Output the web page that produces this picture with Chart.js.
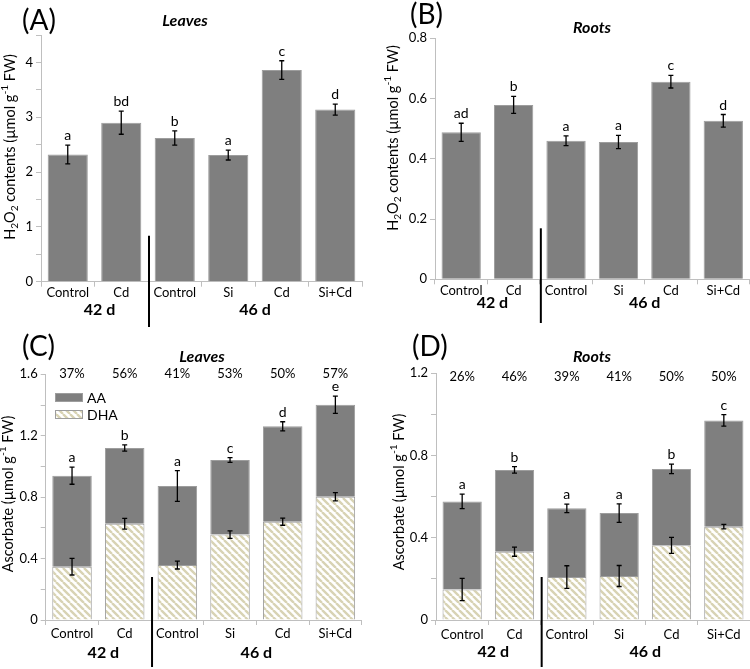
<!DOCTYPE html>
<html>
<head>
<meta charset="utf-8">
<script src="https://cdn.jsdelivr.net/npm/chart.js@4.4.0/dist/chart.umd.min.js"></script>
<style>
  body { margin: 0; background: #fff; }
  #wrap { position: relative; width: 750px; height: 669px; }
  #wrap canvas { position: absolute; }
</style>
</head>
<body>
<div id="wrap">
  <canvas id="cA" width="375" height="330" style="left:0;top:0"></canvas>
  <canvas id="cB" width="375" height="330" style="left:375px;top:0"></canvas>
  <canvas id="cC" width="375" height="339" style="left:0;top:330px"></canvas>
  <canvas id="cD" width="375" height="339" style="left:375px;top:330px"></canvas>
</div>
<script>
/* ---- data ---- */
const CATS = ['Control', 'Cd', 'Control', 'Si', 'Cd', 'Si+Cd'];
const GROUPS = ['42 d', '46 d'];

// (A) H2O2 leaves
const H2O2_LEAF = [2.32, 2.90, 2.62, 2.31, 3.86, 3.14];
const H2O2_LEAF_ERR = [0.17, 0.21, 0.13, 0.09, 0.17, 0.10];
const H2O2_LEAF_SIG = ['a', 'bd', 'b', 'a', 'c', 'd'];

// (B) H2O2 roots
const H2O2_ROOT = [0.488, 0.579, 0.460, 0.456, 0.656, 0.526];
const H2O2_ROOT_ERR = [0.030, 0.028, 0.016, 0.022, 0.021, 0.021];
const H2O2_ROOT_SIG = ['ad', 'b', 'a', 'a', 'c', 'd'];

// (C) ascorbate leaves: total (AA+DHA) and DHA part
const ASC_LEAF_TOTAL = [0.940, 1.120, 0.873, 1.042, 1.261, 1.402];
const ASC_LEAF_TOTAL_ERR = [0.056, 0.020, 0.100, 0.015, 0.030, 0.056];
const ASC_LEAF_DHA = [0.347, 0.627, 0.358, 0.556, 0.640, 0.803];
const ASC_LEAF_DHA_ERR = [0.054, 0.035, 0.026, 0.024, 0.023, 0.027];
const ASC_LEAF_SIG = ['a', 'b', 'a', 'c', 'd', 'e'];
const ASC_LEAF_PCT = ['37%', '56%', '41%', '53%', '50%', '57%'];

// (D) ascorbate roots
const ASC_ROOT_TOTAL = [0.577, 0.730, 0.543, 0.520, 0.735, 0.971];
const ASC_ROOT_TOTAL_ERR = [0.035, 0.016, 0.021, 0.045, 0.023, 0.028];
const ASC_ROOT_DHA = [0.148, 0.332, 0.209, 0.214, 0.363, 0.454];
const ASC_ROOT_DHA_ERR = [0.054, 0.022, 0.055, 0.051, 0.039, 0.011];
const ASC_ROOT_SIG = ['a', 'b', 'a', 'a', 'b', 'c'];
const ASC_ROOT_PCT = ['26%', '46%', '39%', '41%', '50%', '50%'];

/* ---- style ---- */
const FONT = 'Lato';
const GRAY = '#7f7f7f';
const EDGE = '#9d9d9d';
const AXIS = '#bfbfbf';
Chart.defaults.font.family = FONT;
Chart.defaults.color = '#000';

function hatch() {
  const c = document.createElement('canvas');
  c.width = c.height = 7;
  const g = c.getContext('2d');
  g.fillStyle = '#fff';
  g.fillRect(0, 0, 7, 7);
  g.strokeStyle = '#d8d3b4';
  g.lineWidth = 2.4;
  g.beginPath();
  for (const k of [-7, 0, 7]) { g.moveTo(k, 0); g.lineTo(k + 7, 7); }
  g.stroke();
  return g.createPattern(c, 'repeat');
}
const HATCH = hatch();

const Y_H2O2 = [['H'], ['2', 1], ['O'], ['2', 1], [' contents (µmol g'], ['-1', 2], [' FW)']];
const Y_ASC = [['Ascorbate (µmol g'], ['-1', 2], [' FW)']];

// rotated axis title with sub/superscripts
function richY(ctx, parts, x, y, size) {
  const small = size * 0.7;
  const fnt = p => (p[1] ? small : size) + 'px ' + FONT;
  let w = 0;
  parts.forEach(p => { ctx.font = fnt(p); w += ctx.measureText(p[0]).width; });
  ctx.save();
  ctx.translate(x, y);
  ctx.rotate(-Math.PI / 2);
  ctx.textAlign = 'left';
  ctx.textBaseline = 'middle';
  let cx = -w / 2;
  parts.forEach(p => {
    ctx.font = fnt(p);
    const dy = p[1] === 1 ? size * 0.32 : p[1] === 2 ? -size * 0.36 : 0;
    ctx.fillText(p[0], cx, dy);
    cx += ctx.measureText(p[0]).width;
  });
  ctx.restore();
}

function text(ctx, s, x, y, font, align) {
  ctx.font = font;
  ctx.textAlign = align || 'center';
  ctx.textBaseline = 'middle';
  ctx.fillText(s, x, y);
}

// everything that is not a bar: error bars, letters, labels, divider
function decor(p) {
  return {
    id: 'decor',
    afterDatasetsDraw(chart) {
      const ctx = chart.ctx, xs = chart.scales.x, ys = chart.scales.y;
      ctx.save();
      ctx.fillStyle = '#000';
      ctx.strokeStyle = '#000';
      ctx.lineWidth = 1.3;
      p.errs.forEach(([tops, errs]) => {
        tops.forEach((v, i) => {
          const x = xs.getPixelForValue(i);
          const y1 = ys.getPixelForValue(v + errs[i]), y2 = ys.getPixelForValue(v - errs[i]);
          ctx.beginPath();
          ctx.moveTo(x, y1); ctx.lineTo(x, y2);
          ctx.moveTo(x - 2.5, y1); ctx.lineTo(x + 2.5, y1);
          ctx.moveTo(x - 2.5, y2); ctx.lineTo(x + 2.5, y2);
          ctx.stroke();
        });
      });
      const [tops, errs] = p.errs[p.errs.length - 1];
      p.sig.forEach((s, i) => {
        ctx.font = '14px ' + FONT;
        ctx.textAlign = 'center';
        ctx.textBaseline = 'alphabetic';
        ctx.fillText(s, xs.getPixelForValue(i), ys.getPixelForValue(tops[i] + errs[i]) - 5);
      });
      if (p.pct) p.pct.forEach((s, i) => text(ctx, s, xs.getPixelForValue(i), p.pctY, '13px ' + FONT));

      text(ctx, p.tag, p.tagX, p.tagY, '28px ' + FONT, 'left');
      text(ctx, p.title, p.titleX, p.titleY, 'italic bold 16px ' + FONT);
      richY(ctx, p.yTitle, p.yTitleX, p.yTitleY, 14.5);

      const mid = (a, b) => (xs.getPixelForValue(a) + xs.getPixelForValue(b)) / 2;
      const base = ys.getPixelForValue(0);
      text(ctx, GROUPS[0], mid(0, 1) + 5, base + p.groupDy, 'bold 16px ' + FONT);
      text(ctx, GROUPS[1], mid(3, 4), base + p.groupDy, 'bold 16px ' + FONT);

      ctx.lineWidth = 2;
      ctx.beginPath();
      const dx = mid(1, 2) + 1;
      ctx.moveTo(dx, base - p.divUp);
      ctx.lineTo(dx, p.divEnd);
      ctx.stroke();

      if (p.legend) {
        const [lx, ly] = p.legend;
        ctx.lineWidth = 1;
        ctx.strokeStyle = EDGE;
        [[GRAY, 'AA'], [HATCH, 'DHA']].forEach(([fill, name], k) => {
          const y = ly + k * 17;
          ctx.fillStyle = fill;
          ctx.fillRect(lx, y, 28, 9);
          ctx.strokeRect(lx + 0.5, y + 0.5, 27, 8);
          ctx.fillStyle = '#000';
          text(ctx, name, lx + 32, y + 5, '14px ' + FONT, 'left');
        });
      }
      ctx.restore();
    }
  };
}

function tickFmt(v, every) {
  if (v === 0) return '0';
  const r = v / every;
  return Math.abs(r - Math.round(r)) < 1e-6 ? String(+v.toFixed(1)) : '';
}

function panel(id, p, datasets) {
  const stacked = datasets.length > 1;
  return new Chart(document.getElementById(id), {
    type: 'bar',
    data: { labels: CATS, datasets },
    options: {
      responsive: false,
      animation: false,
      events: [],
      layout: { padding: { left: 0, top: p.T, right: p.R, bottom: 0 } },
      plugins: { legend: { display: false }, tooltip: { enabled: false } },
      datasets: { bar: { barPercentage: 0.75, categoryPercentage: 1, borderWidth: 1, borderColor: EDGE } },
      scales: {
        x: {
          stacked,
          grid: { offset: true, drawOnChartArea: false, tickLength: 5, color: AXIS },
          border: { color: AXIS },
          ticks: { font: { size: 13 }, padding: p.tickPad, maxRotation: 0, autoSkip: false },
          afterFit: s => { s.height = p.axisH; }
        },
        y: {
          stacked, min: 0, max: p.max,
          grid: { drawOnChartArea: false, tickLength: 5, color: AXIS },
          border: { color: AXIS },
          ticks: { stepSize: p.step, autoSkip: false, padding: 3, font: { size: 13 }, callback: v => tickFmt(v, p.every) },
          afterFit: s => { s.width = p.L; }
        }
      }
    },
    plugins: [decor(p)]
  });
}

panel('cA', {
  L: 41, T: 35, R: 13, axisH: 48.3, max: 4.5, step: 0.5, every: 1, tickPad: -2,
  errs: [[H2O2_LEAF, H2O2_LEAF_ERR]], sig: H2O2_LEAF_SIG,
  tag: '(A)', tagX: 22, tagY: 21, title: 'Leaves', titleX: 185, titleY: 21,
  yTitle: Y_H2O2, yTitleX: 10, yTitleY: 147, groupDy: 28, divUp: 46, divEnd: 327
}, [{ data: H2O2_LEAF, backgroundColor: GRAY }]);

panel('cB', {
  L: 60, T: 38.3, R: 0.5, axisH: 50.7, max: 0.8, step: 0.2, every: 0.2, tickPad: -1,
  errs: [[H2O2_ROOT, H2O2_ROOT_ERR]], sig: H2O2_ROOT_SIG,
  tag: '(B)', tagX: 35, tagY: 15, title: 'Roots', titleX: 217, titleY: 28,
  yTitle: Y_H2O2, yTitleX: 18, yTitleY: 138, groupDy: 24, divUp: 51, divEnd: 323
}, [{ data: H2O2_ROOT, backgroundColor: GRAY }]);

panel('cC', {
  L: 45.7, T: 44.3, R: 13.3, axisH: 49, max: 1.6, step: 0.2, every: 0.4, tickPad: 1,
  errs: [[ASC_LEAF_DHA, ASC_LEAF_DHA_ERR], [ASC_LEAF_TOTAL, ASC_LEAF_TOTAL_ERR]], sig: ASC_LEAF_SIG,
  pct: ASC_LEAF_PCT, pctY: 44, legend: [55, 63],
  tag: '(C)', tagX: 22, tagY: 17, title: 'Leaves', titleX: 202, titleY: 27,
  yTitle: Y_ASC, yTitleX: 8, yTitleY: 164, groupDy: 33, divUp: 43, divEnd: 337
}, [
  { data: ASC_LEAF_DHA, backgroundColor: HATCH },
  { data: ASC_LEAF_TOTAL.map((t, i) => t - ASC_LEAF_DHA[i]), backgroundColor: GRAY }
]);

panel('cD', {
  L: 61, T: 43.3, R: 0, axisH: 49, max: 1.2, step: 0.2, every: 0.4, tickPad: 2,
  errs: [[ASC_ROOT_DHA, ASC_ROOT_DHA_ERR], [ASC_ROOT_TOTAL, ASC_ROOT_TOTAL_ERR]], sig: ASC_ROOT_SIG,
  pct: ASC_ROOT_PCT, pctY: 47,
  tag: '(D)', tagX: 37, tagY: 17, title: 'Roots', titleX: 217, titleY: 27,
  yTitle: Y_ASC, yTitleX: 24, yTitleY: 162, groupDy: 32, divUp: 43, divEnd: 337
}, [
  { data: ASC_ROOT_DHA, backgroundColor: HATCH },
  { data: ASC_ROOT_TOTAL.map((t, i) => t - ASC_ROOT_DHA[i]), backgroundColor: GRAY }
]);
</script>
</body>
</html>
